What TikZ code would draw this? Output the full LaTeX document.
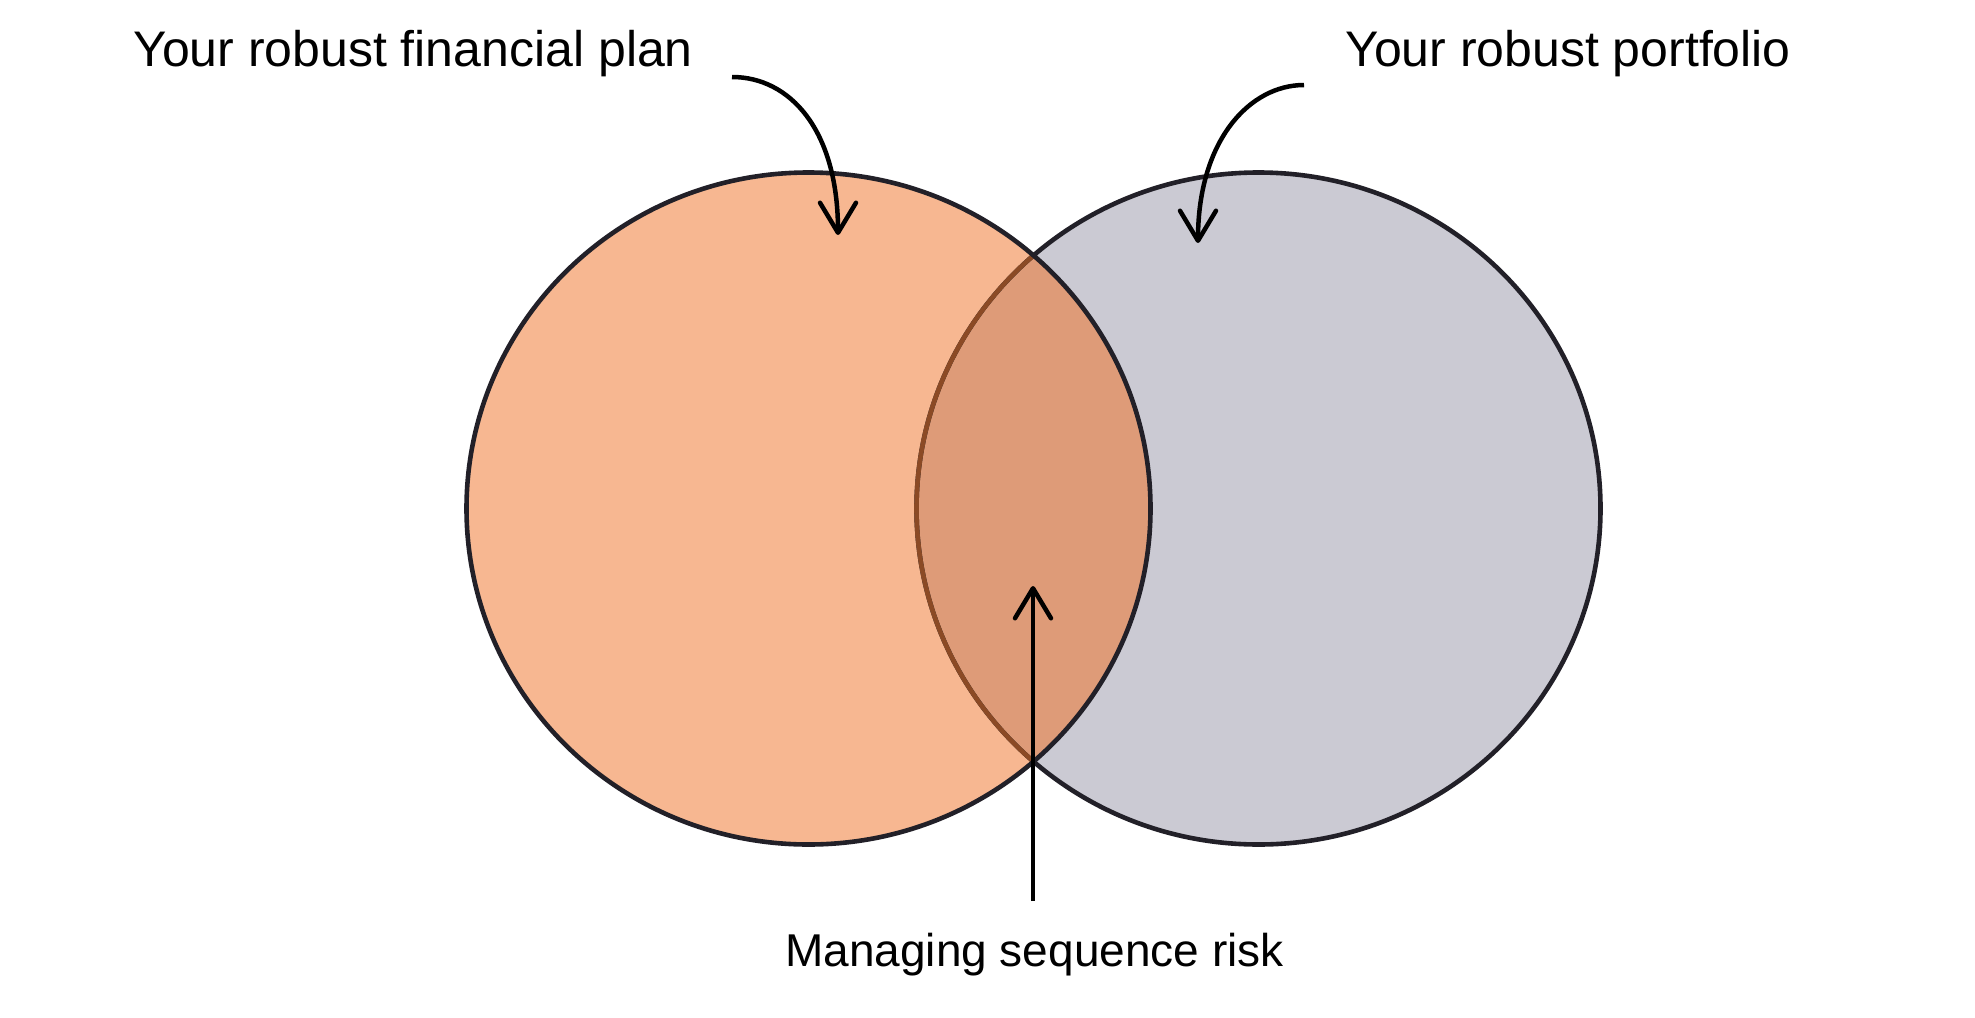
\documentclass[tikz,border=0pt]{standalone}
\usepackage{fontspec}
\setmainfont{Liberation Sans}
\usetikzlibrary{arrows.meta}
\definecolor{planfill}{HTML}{F7B791}
\definecolor{portfill}{HTML}{CBCAD3}
\definecolor{overfill}{HTML}{DE9B78}
\definecolor{overline}{HTML}{8B4A25}
\definecolor{ringline}{HTML}{222028}
\begin{document}
\begin{tikzpicture}[x=1pt,y=-1pt,
  ring/.style={line width=4.6pt, draw=ringline},
  arrowline/.style={line width=4.5pt, draw=black, -{Straight Barb[length=30pt,width=36pt,round]}},
  caption/.style={font=\fontsize{50}{60}\selectfont, inner sep=0pt, text=black}]
\useasboundingbox (0,0) rectangle (1975,1017);
\def\RX{342}
\def\RY{336}
\coordinate (cl) at (808.5,508.5);
\coordinate (cr) at (1258.5,508.5);
% fills
\fill[portfill] (cr) ellipse[x radius=\RX, y radius=\RY];
\fill[planfill] (cl) ellipse[x radius=\RX, y radius=\RY];
\begin{scope}
  \clip (cl) ellipse[x radius=\RX, y radius=\RY];
  \fill[overfill] (cr) ellipse[x radius=\RX, y radius=\RY];
\end{scope}
% outlines
\draw[ring] (cr) ellipse[x radius=\RX, y radius=\RY];
\begin{scope}
  \clip (cl) ellipse[x radius=\RX, y radius=\RY];
  \draw[ring, draw=overline] (cr) ellipse[x radius=\RX, y radius=\RY];
\end{scope}
\draw[ring] (cl) ellipse[x radius=\RX, y radius=\RY];
% labels
\node[caption, anchor=base west] (lplan) at (133,66) {Your robust financial plan};
\node[caption, anchor=base west] (rport) at (1345,66) {Your robust portfolio};
\node[caption, font=\fontsize{46}{55}\selectfont, anchor=base west] (mseq) at (785,966) {Managing sequence risk};
% arrows
\coordinate (a1s) at (732,77);
\coordinate (a1e) at (838,235);
\draw[arrowline] (a1s) .. controls (790,77) and (838,130) .. (a1e);
\coordinate (a2s) at (1304,85);
\coordinate (a2e) at (1198,243);
\draw[arrowline] (a2s) .. controls (1250,85) and (1198,140) .. (a2e);
\coordinate (a3s) at (1033,901);
\coordinate (a3e) at (1033,586);
\draw[arrowline] (a3s) -- (a3e);
\end{tikzpicture}
\end{document}
